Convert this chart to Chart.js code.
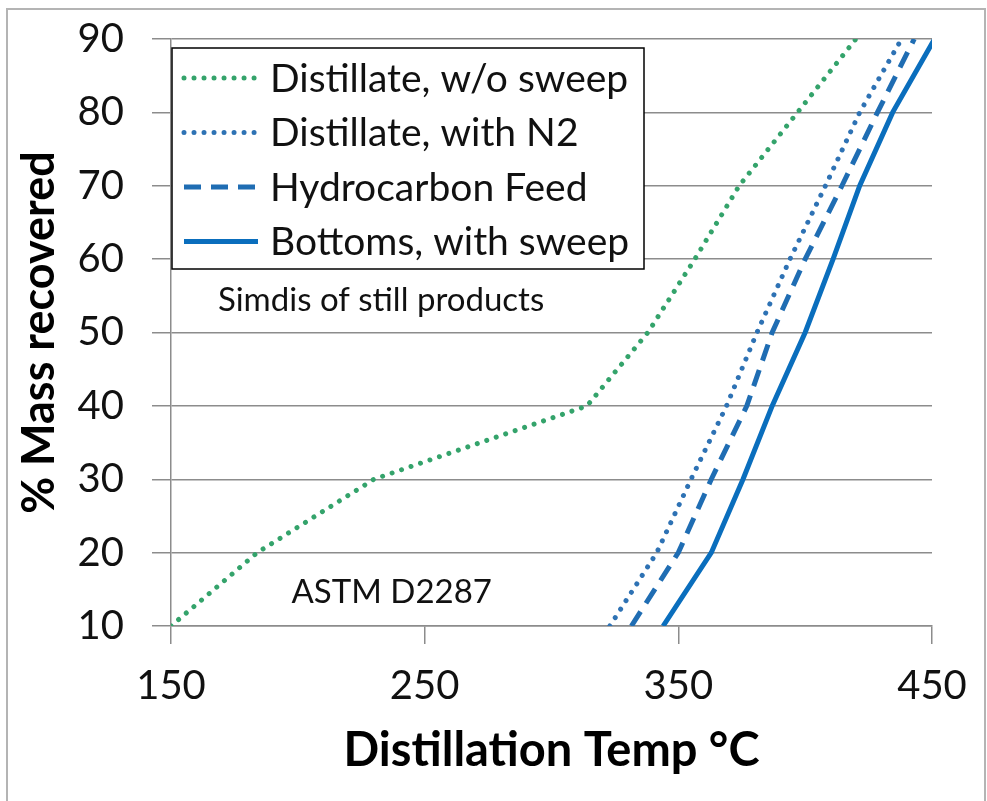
<!DOCTYPE html>
<html>
<head>
<meta charset="utf-8">
<script src="https://cdn.jsdelivr.net/npm/chart.js@4.4.1/dist/chart.umd.min.js"></script>
<style>
  html, body { margin: 0; padding: 0; background: #fff; }
  #wrap { width: 987px; height: 801px; }
</style>
</head>
<body>
<div id="wrap"><canvas id="chart" width="987" height="801"></canvas></div>
<script>
// % mass recovered levels (y) shared by every curve
const massLevels = [10, 20, 30, 40, 50, 60, 70, 80, 90];

// Distillation temperature (deg C) at each mass level
const tempNoSweep  = [150, 184, 230, 314, 338, 356.5, 374, 397, 420];
const tempWithN2   = [323, 341.5, 355, 369, 381, 394, 408, 421.5, 438];
const tempFeed     = [331.5, 350, 363, 377, 387, 400, 414.5, 428.5, 443];
const tempBottoms  = [344, 363, 375.5, 387, 400, 411, 421.5, 434.5, 451];

const seriesNames = ["Distillate, w/o sweep", "Distillate, with N2", "Hydrocarbon Feed", "Bottoms, with sweep"];
const xTickValues = [150, 250, 350, 450];

// Free text notes inside the plot (anchored at data coordinates)
const noteTexts = ["Simdis of still products", "ASTM D2287"];
const noteTemps = [168.5, 197.5];
const noteMass  = [54.4, 14.6];

const gridGray = "#8c8c8c";
const fontFam = "Lato, 'Open Sans', sans-serif";

function points(temps)
{
    return temps.map((t, i) => ({ x: t, y: massLevels[i] }));
}

// White background, outer frame, notes and the boxed legend
const decorPlugin =
{
    id: "decor",
    beforeDraw(chart)
    {
	const ctx = chart.ctx;
	ctx.save();
	ctx.fillStyle = "#fff";
	ctx.fillRect(0, 0, chart.width, chart.height);
	ctx.strokeStyle = "#b4b4b4";
	ctx.lineWidth = 2;
	ctx.strokeRect(7, 9, 978, 800);
	ctx.restore();
    },
    afterDatasetsDraw(chart)
    {
	const ctx = chart.ctx;
	const xs = chart.scales.x, ys = chart.scales.y;
	const area = chart.chartArea;
	ctx.save();

	// notes
	ctx.fillStyle = "#111";
	ctx.font = "33px " + fontFam;
	ctx.textBaseline = "middle";
	ctx.textAlign = "left";
	noteTexts.forEach((txt, i) =>
	{
	    ctx.fillText(txt, xs.getPixelForValue(noteTemps[i]), ys.getPixelForValue(noteMass[i]));
	});

	// legend box
	const left = area.left + 1, top = area.top + 9;
	const w = 472, h = 221;
	ctx.fillStyle = "#fff";
	ctx.fillRect(left, top, w, h);
	ctx.strokeStyle = "#000";
	ctx.lineWidth = 1.5;
	ctx.setLineDash([]);
	ctx.strokeRect(left, top, w, h);

	chart.data.datasets.forEach((ds, i) =>
	{
	    const y = top + 30 + i * 54.5;
	    ctx.beginPath();
	    ctx.strokeStyle = ds.borderColor;
	    ctx.lineWidth = ds.borderWidth;
	    ctx.lineCap = ds.borderCapStyle || "butt";
	    ctx.setLineDash(ds.borderDash || []);
	    ctx.moveTo(left + 12, y);
	    ctx.lineTo(left + 86, y);
	    ctx.stroke();

	    ctx.setLineDash([]);
	    ctx.fillStyle = "#111";
	    ctx.font = "39px " + fontFam;
	    ctx.textBaseline = "middle";
	    ctx.fillText(ds.label, left + 98, y + 1);
	});
	ctx.restore();
    }
};

const myChart = new Chart(document.getElementById("chart"),
{
    type: "line",
    plugins: [decorPlugin],
    data:
    {
	datasets:
	[
	    {
		label: seriesNames[0],
		data: points(tempNoSweep),
		borderColor: "#34a36b",
		borderWidth: 5,
		borderDash: [0.01, 10],
		borderCapStyle: "round"
	    },
	    {
		label: seriesNames[1],
		data: points(tempWithN2),
		borderColor: "#2e72b4",
		borderWidth: 5,
		borderDash: [0.01, 10],
		borderCapStyle: "round"
	    },
	    {
		label: seriesNames[2],
		data: points(tempFeed),
		borderColor: "#1f6db3",
		borderWidth: 5,
		borderDash: [17, 10],
		borderCapStyle: "butt"
	    },
	    {
		label: seriesNames[3],
		data: points(tempBottoms),
		borderColor: "#0a6ebd",
		borderWidth: 5,
		borderCapStyle: "butt"
	    }
	]
    },
    options:
    {
	responsive: false,
	animation: false,
	layout: { padding: { left: 0, top: 39, right: 55, bottom: 0 } },
	elements: { point: { radius: 0, hoverRadius: 0 }, line: { tension: 0 } },
	plugins:
	{
	    legend: { display: false },
	    tooltip: { enabled: false }
	},
	scales:
	{
	    x:
	    {
		type: "linear",
		min: 150,
		max: 450,
		afterBuildTicks: (s) => { s.ticks = xTickValues.map(v => ({ value: v })); },
		afterFit: (s) => { s.height = 175; },
		grid: { drawOnChartArea: false, drawTicks: true, tickLength: 18, color: gridGray, lineWidth: 1.5 },
		border: { color: gridGray, width: 1.5 },
		ticks: { color: "#111", font: { family: fontFam, size: 40 }, padding: 18, maxRotation: 0 },
		title:
		{
		    display: true,
		    text: "Distillation Temp °C",
		    color: "#000",
		    font: { family: fontFam, size: 47, weight: "bold" },
		    padding: { top: 0, bottom: 22 }
		}
	    },
	    y:
	    {
		min: 10,
		max: 90,
		// fixed width; drop the label overhang so the layout padding sets the top
		afterFit: (s) => { s.width = 171; s.paddingTop = 0; s.paddingBottom = 0; },
		grid: { drawTicks: true, tickLength: 19, color: gridGray, lineWidth: 1.5 },
		border: { color: gridGray, width: 1.5 },
		ticks: { stepSize: 10, color: "#111", font: { family: fontFam, size: 40 }, padding: 28 },
		title:
		{
		    display: true,
		    text: "% Mass recovered",
		    color: "#000",
		    font: { family: fontFam, size: 45, weight: "bold" },
		    padding: { top: 12, bottom: 0 }
		}
	    }
	}
    }
});
</script>
</body>
</html>
